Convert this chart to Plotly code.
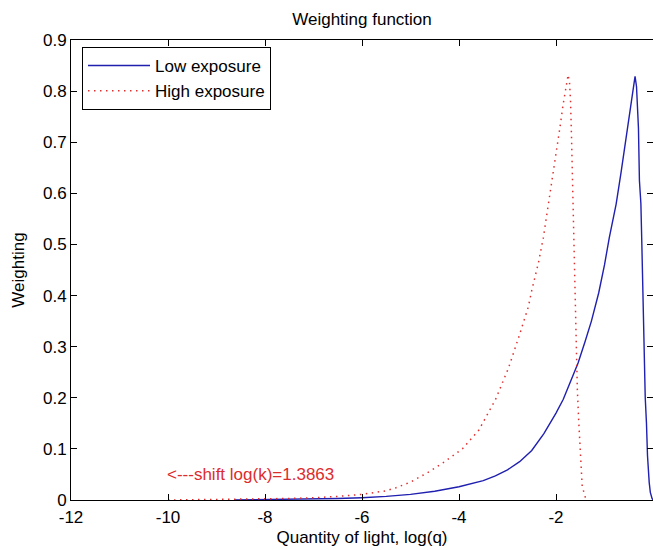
import plotly.graph_objects as go

# ---- data ----
low_x = [-8.64, -8.0, -7.5, -7.0, -6.5, -6.0, -5.5, -5.0, -4.5, -4.0, -3.5, -3.25, -3.0,
         -2.75, -2.5, -2.25, -2.0, -1.85, -1.715, -1.545, -1.4, -1.27, -1.12, -1.0,
         -0.9, -0.76, -0.66, -0.52, -0.42, -0.37, -0.34, -0.30, -0.28, -0.25, -0.23,
         -0.21, -0.195, -0.175, -0.16, -0.135, -0.113, -0.078, -0.055, -0.02, 0.0]
low_y = [0.0, 0.0007, 0.0012, 0.002, 0.003, 0.0045, 0.007, 0.011, 0.017, 0.026, 0.038, 0.047, 0.059,
         0.075, 0.097, 0.13, 0.17, 0.197, 0.228, 0.268, 0.31, 0.35, 0.405, 0.46,
         0.514, 0.579, 0.64, 0.728, 0.80, 0.829, 0.809, 0.728, 0.625, 0.58, 0.5,
         0.42, 0.34, 0.24, 0.2, 0.151, 0.086, 0.034, 0.015, 0.003, 0.0]

high_x = [-10.0, -9.5, -9.0, -8.5, -8.0, -7.5, -7.0, -6.5, -6.0, -5.5, -5.3, -5.0,
          -4.62, -4.34, -3.93, -3.59, -3.25, -2.98, -2.77, -2.57, -2.50, -2.36, -2.26,
          -2.16, -2.06, -1.99, -1.92, -1.853, -1.785, -1.75, -1.72, -1.70, -1.68, -1.66,
          -1.63, -1.61, -1.59, -1.56, -1.53, -1.50, -1.46, -1.40, -1.386]
high_y = [0.0, 0.0005, 0.001, 0.0015, 0.002, 0.003, 0.0045, 0.007, 0.011, 0.018, 0.024, 0.035,
          0.055, 0.072, 0.1, 0.137, 0.196, 0.258, 0.318, 0.378, 0.41, 0.465, 0.514,
          0.575, 0.64, 0.68, 0.728, 0.774, 0.81, 0.832, 0.815, 0.78, 0.71, 0.625,
          0.55, 0.45, 0.37, 0.216, 0.151, 0.086, 0.027, 0.007, 0.0]

x_ticks = [-12, -10, -8, -6, -4, -2, 0]
y_ticks = [0, 0.1, 0.2, 0.3, 0.4, 0.5, 0.6, 0.7, 0.8, 0.9]

shift_label = "<---shift log(k)=1.3863"
shift_pos = (-10, 0.05)

FONT = "Arial, Liberation Sans, Helvetica, sans-serif"

fig = go.Figure()
fig.add_trace(go.Scatter(x=low_x, y=low_y, mode="lines", name="Low exposure",
                         line=dict(color="#1f1fb0", width=1.4)))
fig.add_trace(go.Scatter(x=high_x, y=high_y, mode="lines", name="High exposure",
                         line=dict(color="#e03030", width=1.5, dash="1.5px,4.5px")))

fig.add_annotation(x=shift_pos[0], y=shift_pos[1], xref="x", yref="y",
                   text=shift_label, showarrow=False, xanchor="left", yanchor="middle",
                   xshift=-3,
                   font=dict(color="#dd2c2c", size=17, family=FONT))

axis_common = dict(showline=True, linecolor="black", linewidth=1, mirror="ticks",
                   ticks="inside", ticklen=6, tickcolor="black", tickwidth=1,
                   showgrid=False, zeroline=False,
                   tickfont=dict(size=17, family=FONT, color="black"))

fig.update_layout(
    width=653, height=550,
    margin=dict(l=71, r=0, t=40, b=50),
    paper_bgcolor="white", plot_bgcolor="white",
    font=dict(family=FONT, size=17, color="black"),
    title=dict(text="Weighting function", x=0.5, xref="paper", xanchor="center",
               y=1 - 19 / 550, yref="container", yanchor="middle",
               font=dict(size=17, family=FONT, color="black")),
    xaxis=dict(range=[-12, 0], tickvals=x_ticks, ticktext=[str(v) for v in x_ticks],
               ticklabelstandoff=2,
               title=dict(text="Quantity of light, log(q)", standoff=4,
                          font=dict(size=17, family=FONT, color="black")),
               automargin=False, **axis_common),
    yaxis=dict(range=[0, 0.9], tickvals=y_ticks, ticktext=[("%g" % v) for v in y_ticks],
               title=dict(text="Weighting", standoff=14,
                          font=dict(size=17, family=FONT, color="black")),
               automargin=False, **axis_common),
    showlegend=True,
    legend=dict(x=(82 - 71) / 582, y=(500 - 47) / 460, xanchor="left", yanchor="top",
                bgcolor="white", bordercolor="black", borderwidth=1,
                font=dict(size=17, family=FONT), itemwidth=62, tracegroupgap=0),
)

fig.write_html("out.html")
